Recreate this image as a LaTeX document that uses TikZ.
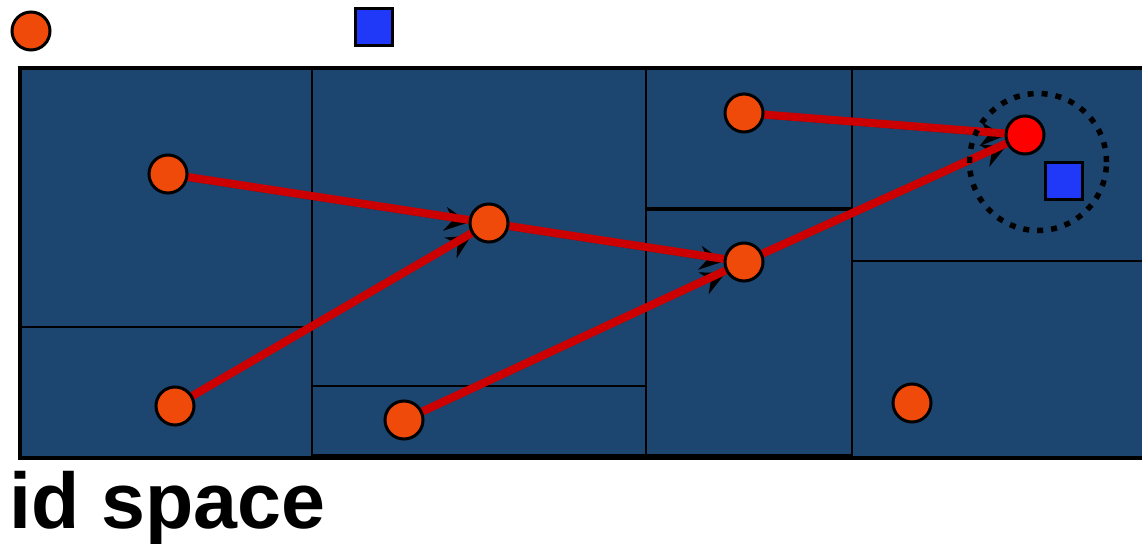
\documentclass[tikz,border=0pt]{standalone}
\usepackage{fontspec}
\setmainfont{Liberation Sans}
\usetikzlibrary{arrows.meta}
\definecolor{cellblue}{HTML}{1C456F}
\definecolor{peer}{HTML}{F04A0A}
\definecolor{linkred}{HTML}{CC0000}
\definecolor{keyblue}{HTML}{2038F8}
\pgfdeclarelayer{cells}
\pgfdeclarelayer{edges}
\pgfsetlayers{cells,edges,main}
\begin{document}
\begin{tikzpicture}[x=1pt,y=-1pt,
  peernode/.style={circle,draw=black,line width=3pt,fill=peer,minimum size=38pt,inner sep=0pt},
  target/.style={peernode,fill=red},
  keynode/.style={rectangle,draw=black,line width=3pt,fill=keyblue,minimum size=37pt,inner sep=0pt},
  cell/.style={draw=black,line width=2.5pt},
  hop/.style={draw=black,line width=2.5pt,-{Stealth[length=24pt,width=24pt,inset=8pt]}},
  redlink/.style={draw=linkred,line width=8pt}]
\useasboundingbox (0,0) rectangle (1142,543);
% legend
\node[peernode] (lp) at (31,31) {};
\node[keynode] (lk) at (374,27) {};
% cells
\begin{pgfonlayer}{cells}
\begin{scope}
\clip (0,0) rectangle (1142,543);
\fill[cellblue] (20,68) rectangle (1150,458);
\draw[cell] (312,68) -- (312,457);
\draw[cell] (20,327) -- (312,327);
\draw[cell] (646,68) -- (646,457);
\draw[cell] (312,386) -- (646,386);
\draw[cell] (852,68) -- (852,457);
\draw[cell,line width=4pt] (646,208.5) -- (852,208.5);
\draw[cell] (852,261) -- (1150,261);
\draw[line width=4pt] (312,456) -- (852,456);
\draw[black,line width=3.5pt] (20,68) rectangle (1150,458);
\end{scope}
\end{pgfonlayer}
% peers
\node[peernode] (a) at (168,174) {};
\node[peernode] (b) at (489,223) {};
\node[peernode] (c) at (175,406) {};
\node[peernode] (d) at (404,420) {};
\node[peernode] (e) at (744,262) {};
\node[peernode] (f) at (744,113) {};
\node[target] (g) at (1025,135) {};
\node[peernode] (h) at (912,403) {};
\node[keynode] (k) at (1063.5,181) {};
\node[circle,draw=black,line width=5.5pt,dash pattern=on 6pt off 8pt,minimum size=137pt,inner sep=0pt] (range) at (1038,162) {};
% connectors
\begin{pgfonlayer}{edges}
\foreach \s/\t in {a/b,c/b,b/e,d/e,e/g,f/g}{
  \draw[hop,transform canvas={yshift=-2.5pt}] (\s) -- (\t);
  \draw[redlink] (\s.center) -- (\t.center);
}
\end{pgfonlayer}
% label
\node[anchor=base west,inner sep=0pt,font=\bfseries\fontsize{79}{90}\selectfont] (lbl) at (9,528) {id space};
\end{tikzpicture}
\end{document}
